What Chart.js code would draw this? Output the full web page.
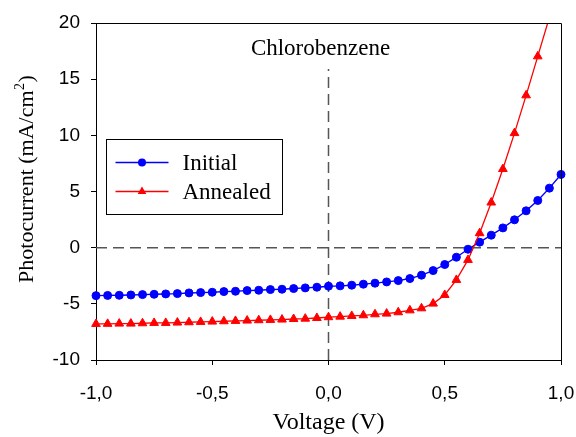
<!DOCTYPE html>
<html>
<head>
<meta charset="utf-8">
<script src="https://cdn.jsdelivr.net/npm/chart.js@4.4.1/dist/chart.umd.min.js"></script>
<style>
  html, body { margin: 0; padding: 0; background: #fff; }
</style>
</head>
<body>
<canvas id="ivChart" width="576" height="437"></canvas>
<script>
// photocurrent vs voltage, chlorobenzene device

const VOLTAGE = [
  -1.00, -0.95, -0.90, -0.85, -0.80, -0.75, -0.70, -0.65, -0.60, -0.55, -0.50,
  -0.45, -0.40, -0.35, -0.30, -0.25, -0.20, -0.15, -0.10, -0.05, 0.00,
  0.05, 0.10, 0.15, 0.20, 0.25, 0.30, 0.35, 0.40, 0.45, 0.50,
  0.55, 0.60, 0.65, 0.70, 0.75, 0.80, 0.85, 0.90, 0.95, 1.00
];
const INITIAL = [
  -4.27, -4.25, -4.24, -4.21, -4.18, -4.15, -4.12, -4.09, -4.03, -4.00, -3.97,
  -3.91, -3.88, -3.82, -3.79, -3.73, -3.70, -3.64, -3.58, -3.52, -3.43,
  -3.40, -3.34, -3.25, -3.16, -3.05, -2.93, -2.75, -2.45, -2.04, -1.50,
  -0.85, -0.14, 0.49, 1.11, 1.76, 2.48, 3.28, 4.20, 5.30, 6.52
];
const ANNEALED = [
  -6.79, -6.78, -6.76, -6.76, -6.73, -6.70, -6.70, -6.67, -6.64, -6.61, -6.58,
  -6.55, -6.52, -6.49, -6.46, -6.43, -6.40, -6.35, -6.32, -6.26, -6.19,
  -6.14, -6.08, -6.02, -5.93, -5.87, -5.75, -5.58, -5.40, -4.98, -4.21,
  -2.87, -1.09, 1.29, 4.02, 7.00, 10.20, 13.56, 17.03, 20.50, 24.00
];

// dashed guides through the origin
const GUIDE_H_X = [-1, 1];
const GUIDE_H_Y = [0, 0];
const GUIDE_V_X = [0, 0];
const GUIDE_V_Y = [-10, 15.9];

const X_TICKS = [-1, -0.5, 0, 0.5, 1];
const Y_TICKS = [-10, -5, 0, 5, 10, 15, 20];

const SERIES_NAMES = ['Initial', 'Annealed'];
const PLOT_TITLE = 'Chlorobenzene';
const X_TITLE = 'Voltage (V)';

const SANS  = "'Liberation Sans', Arial, sans-serif";
const SERIF = "'Liberation Serif', 'Times New Roman', serif";

const pts = (xs, ys) => xs.map((x, i) => ({ x: x, y: ys[i] }));

// top/right frame, title, legend, rotated y title with superscript
const decorPlugin = {
  id: 'decor',
  afterDraw(chart) {
    const ctx = chart.ctx;
    const ca = chart.chartArea;
    ctx.save();

    // frame
    ctx.strokeStyle = '#000';
    ctx.lineWidth = 1;
    ctx.beginPath();
    ctx.moveTo(Math.round(ca.left) + 0.5, Math.round(ca.top) + 0.5);
    ctx.lineTo(Math.round(ca.right) + 0.5, Math.round(ca.top) + 0.5);
    ctx.lineTo(Math.round(ca.right) + 0.5, Math.round(ca.bottom) + 0.5);
    ctx.stroke();

    // title inside plot
    ctx.fillStyle = '#000';
    ctx.font = '23px ' + SERIF;
    ctx.textAlign = 'center';
    ctx.textBaseline = 'alphabetic';
    ctx.fillText(PLOT_TITLE, ca.left + 224.5, ca.top + 32);

    // legend
    const bx = Math.round(ca.left + 9.7) + 0.5;
    const by = Math.round(ca.top + 116) + 0.5;
    ctx.strokeRect(bx, by, 176, 75);
    const rows = [by + 23, by + 52];
    chart.data.datasets.slice(0, 2).forEach((ds, i) => {
      const y = rows[i];
      ctx.strokeStyle = ds.borderColor;
      ctx.lineWidth = ds.borderWidth;
      ctx.beginPath();
      ctx.moveTo(bx + 9, y);
      ctx.lineTo(bx + 62, y);
      ctx.stroke();
      ctx.fillStyle = ds.pointBackgroundColor;
      const mx = bx + 35.5;
      const r = ds.pointRadius;
      ctx.beginPath();
      if (ds.pointStyle === 'triangle') {
        ctx.moveTo(mx, y - r);
        ctx.lineTo(mx + r * 0.866, y + r * 0.5);
        ctx.lineTo(mx - r * 0.866, y + r * 0.5);
        ctx.closePath();
      } else {
        ctx.arc(mx, y, r, 0, Math.PI * 2);
      }
      ctx.fill();
      ctx.fillStyle = '#000';
      ctx.font = '23px ' + SERIF;
      ctx.textAlign = 'left';
      ctx.textBaseline = 'middle';
      ctx.fillText(SERIES_NAMES[i], bx + 76, y + 1);
    });

    // y title: Photocurrent (mA/cm^2)
    const main = 'Photocurrent (mA/cm';
    ctx.font = '22px ' + SERIF;
    const w1 = ctx.measureText(main).width;
    const w3 = ctx.measureText(')').width;
    ctx.font = '14px ' + SERIF;
    const w2 = ctx.measureText('2').width;
    const total = w1 + w2 + w3;
    ctx.translate(33, 179.5 + total / 2);
    ctx.rotate(-Math.PI / 2);
    ctx.textAlign = 'left';
    ctx.textBaseline = 'alphabetic';
    ctx.fillStyle = '#000';
    ctx.font = '22px ' + SERIF;
    ctx.fillText(main, 0, 0);
    ctx.font = '14px ' + SERIF;
    ctx.fillText('2', w1 + 0.5, -9);
    ctx.font = '22px ' + SERIF;
    ctx.fillText(')', w1 + w2 + 1, 0);

    ctx.restore();
  }
};

const ctx = document.getElementById('ivChart').getContext('2d');
new Chart(ctx, {
  type: 'scatter',
  data: {
    datasets: [
      {
        label: SERIES_NAMES[0],
        data: pts(VOLTAGE, INITIAL),
        showLine: true,
        borderColor: '#0000ff',
        backgroundColor: '#0000ff',
        pointBackgroundColor: '#0000ff',
        pointBorderColor: '#0000ff',
        borderWidth: 1.4,
        pointBorderWidth: 1,
        pointRadius: 4,
        pointStyle: 'circle',
        tension: 0,
        order: 2,
        clip: { left: 10, right: 10, top: 0, bottom: 10 }
      },
      {
        label: SERIES_NAMES[1],
        data: pts(VOLTAGE, ANNEALED),
        showLine: true,
        borderColor: '#ff0000',
        backgroundColor: '#ff0000',
        pointBackgroundColor: '#ff0000',
        pointBorderColor: '#ff0000',
        borderWidth: 1.3,
        pointBorderWidth: 1,
        pointRadius: 5,
        pointStyle: 'triangle',
        tension: 0,
        order: 1,
        clip: { left: 10, right: 10, top: 0, bottom: 10 }
      },
      {
        label: 'zeroH',
        data: pts(GUIDE_H_X, GUIDE_H_Y),
        showLine: true,
        borderColor: '#555',
        borderWidth: 1.5,
        borderDash: [11, 6],
        pointRadius: 0,
        order: 3
      },
      {
        label: 'zeroV',
        data: pts(GUIDE_V_X, GUIDE_V_Y),
        showLine: true,
        borderColor: '#555',
        borderWidth: 1.5,
        borderDash: [11, 6],
        pointRadius: 0,
        order: 3
      }
    ]
  },
  options: {
    responsive: false,
    animation: false,
    layout: { padding: { top: 23, right: 15, left: 0, bottom: 0 } },
    plugins: {
      legend: { display: false },
      tooltip: { enabled: false }
    },
    scales: {
      x: {
        type: 'linear',
        min: -1,
        max: 1,
        afterBuildTicks: s => { s.ticks = X_TICKS.map(v => ({ value: v })); },
        afterFit: s => { s.height = 77; s.paddingLeft = 0; s.paddingRight = 0; },
        ticks: {
          color: '#000',
          padding: 17,
          font: { family: SANS, size: 19 },
          callback: v => v.toFixed(1).replace('.', ',')
        },
        grid: { drawOnChartArea: false, drawTicks: true, tickLength: 5, color: '#000' },
        border: { display: true, color: '#000', width: 1 },
        title: {
          display: true,
          text: X_TITLE,
          color: '#000',
          font: { family: SERIF, size: 24, lineHeight: 1.2 },
          padding: 0
        }
      },
      y: {
        min: -10,
        max: 20,
        afterBuildTicks: s => { s.ticks = Y_TICKS.map(v => ({ value: v })); },
        afterFit: s => { s.width = 96; s.paddingTop = 0; s.paddingBottom = 0; },
        ticks: {
          color: '#000',
          padding: 11,
          font: { family: SANS, size: 19 },
          callback: v => String(v)
        },
        grid: { drawOnChartArea: false, drawTicks: true, tickLength: 5, color: '#000' },
        border: { display: true, color: '#000', width: 1 }
      }
    }
  },
  plugins: [decorPlugin]
});
</script>
</body>
</html>
